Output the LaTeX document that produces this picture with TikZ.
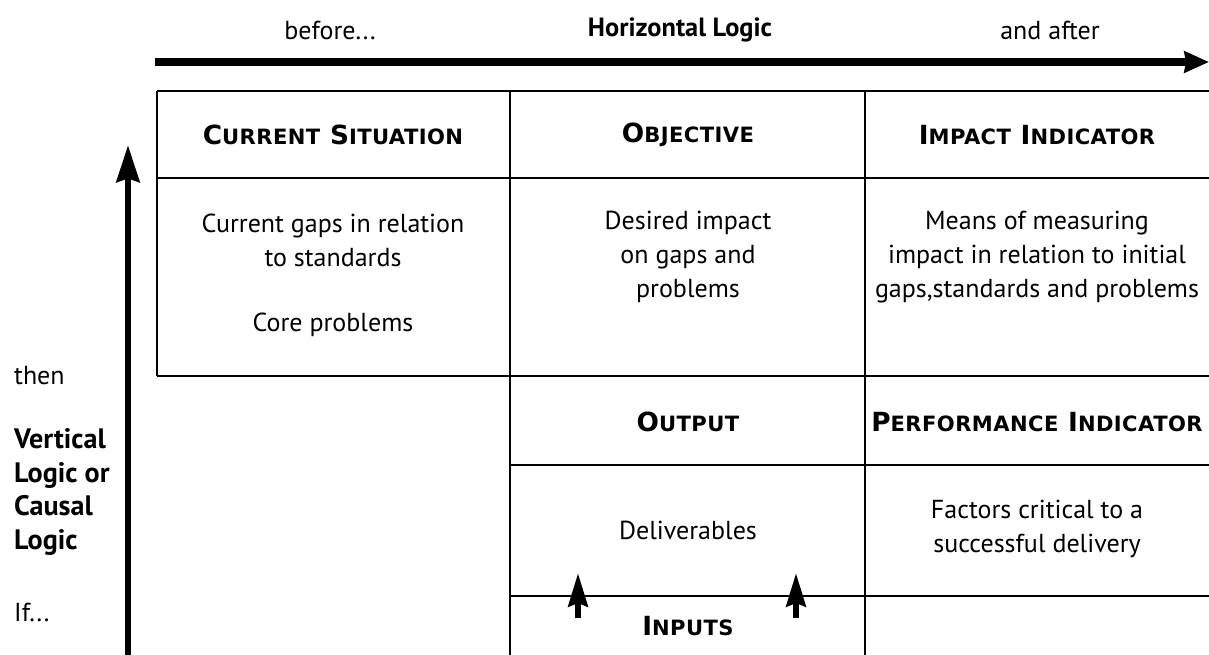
\documentclass[tikz,border=0pt]{standalone}
\usepackage{fontspec}
\setmainfont{PT Sans}
\newfontfamily\headfont{DejaVu Sans}[LetterSpace=2]
\usetikzlibrary{arrows.meta}

% first letter full size, the rest as small capitals
\newcommand\capword[2]{#1{\fontsize{12}{14}\selectfont #2}}

\begin{document}
\begin{tikzpicture}[x=0.02cm,y=-0.02cm,
  every node/.style={font=\fontsize{14.8}{19.3}\selectfont,align=center},
  head/.style={font=\headfont\fontsize{15}{17}\selectfont\bfseries},
  grid/.style={line width=1pt},
  bigarrow/.style={line width=4.5pt,-{Stealth[length=14pt,width=12pt,inset=1pt]}},
  smallarrow/.style={line width=3.6pt,-{Stealth[length=19pt,width=11pt,inset=2pt]}}]
\useasboundingbox (0,0) rectangle (1209,655);

% horizontal logic
\node (before) at (330,30) {before...};
\node[font=\fontsize{15}{17}\selectfont\bfseries] (hlogic) at (680,30) {Horizontal Logic};
\node (after) at (1050,30) {and after};
\coordinate (hstart) at (155,62);
\coordinate (hend) at (1209,62);
\draw[bigarrow] (hstart) -- (hend);

% vertical logic
\coordinate (vstart) at (128,655);
\coordinate (vend) at (128,145);
\draw[line width=3.8pt,-{Stealth[length=21pt,width=13pt,inset=2pt]}] (vstart) -- (vend);
\node[anchor=west] (then) at (8,376) {then};
\node[anchor=west,align=left,font=\fontsize{16}{19.3}\selectfont\bfseries] (vlogic) at (8,492)
  {Vertical\\Logic or\\Causal\\Logic};
\node[anchor=west] (if) at (8,612) {If...};

% grid
\draw[grid] (157,91) -- (1209,91);
\draw[grid] (157,178) -- (1209,178);
\draw[grid] (157,376) -- (1209,376);
\draw[grid] (510,465) -- (1209,465);
\draw[grid] (865,596) -- (1209,596);
\draw[line width=1.6pt] (510,596) -- (865,596);
\draw[grid] (157,91) -- (157,376);
\draw[grid] (510,91) -- (510,655);
\draw[grid] (865,91) -- (865,655);

% headings
\node[head] (situation) at (333,135) {\capword{C}{URRENT} \capword{S}{ITUATION}};
\node[head] (objective) at (688,135) {\capword{O}{BJECTIVE}};
\node[head] (impact) at (1037,135) {\capword{I}{MPACT} \capword{I}{NDICATOR}};
\node[head] (output) at (688,422) {\capword{O}{UTPUT}};
\node[head] (performance) at (1037,422) {\capword{P}{ERFORMANCE} \capword{I}{NDICATOR}};
\node[head] (inputs) at (688,626) {\capword{I}{NPUTS}};

% cell texts
\node (gaps) at (333,240) {Current gaps in relation\\to standards};
\node (core) at (333,325) {Core problems};
\node (desired) at (688,257) {Desired impact\\on gaps and\\problems};
\node (means) at (1037,257) {Means of measuring\\impact in relation to initial\\gaps,standards and problems};
\node (deliv) at (688,530) {Deliverables};
\node (factors) at (1037,529) {Factors critical to a\\successful delivery};

% inputs feed the output
\foreach \n/\x in {a/578,b/796}{
  \coordinate (in\n) at (\x,618);
  \coordinate (out\n) at (\x,573);
  \draw[smallarrow] (in\n) -- (out\n);
}
\end{tikzpicture}
\end{document}
